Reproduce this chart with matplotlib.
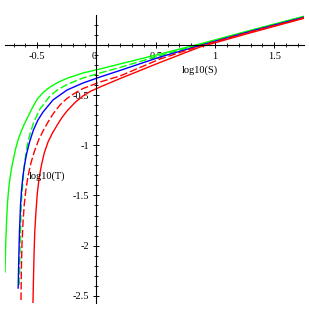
import matplotlib
matplotlib.use("Agg")
import matplotlib.pyplot as plt
from matplotlib.ticker import MultipleLocator, FixedLocator

# values (log10(S), log10(T))
green_solid_x = [-0.772, -0.766, -0.759, -0.751, -0.741, -0.730, -0.716, -0.700, -0.684, -0.662,
                 -0.637, -0.612, -0.582, -0.544, -0.502, -0.451, -0.392, -0.325, -0.249, -0.114,
                 0.030, 0.198, 0.536, 0.873, 1.295, 1.759]
green_solid_y = [-2.263, -1.994, -1.765, -1.575, -1.436, -1.326, -1.226, -1.132, -1.042, -0.947,
                 -0.867, -0.796, -0.723, -0.633, -0.543, -0.474, -0.419, -0.372, -0.332, -0.279,
                 -0.239, -0.189, -0.090, 0.010, 0.145, 0.289]

green_dash_x = [-0.651, -0.647, -0.641, -0.633, -0.624, -0.614, -0.601, -0.584, -0.561, -0.532,
                -0.477, -0.392, -0.325, -0.249, -0.114, 0.030, 0.198, 0.536, 0.873, 1.295, 1.759]
green_dash_y = [-2.393, -2.144, -1.844, -1.545, -1.406, -1.266, -1.127, -0.997, -0.887, -0.778,
                -0.638, -0.508, -0.444, -0.394, -0.329, -0.279, -0.224, -0.105, 0.005, 0.140, 0.284]

blue_x = [-0.661, -0.656, -0.650, -0.641, -0.633, -0.622, -0.608, -0.591, -0.565, -0.532,
          -0.494, -0.451, -0.367, -0.249, -0.114, 0.030, 0.198, 0.536, 0.873, 1.295, 1.759]
blue_y = [-2.423, -2.144, -1.864, -1.595, -1.456, -1.321, -1.201, -1.092, -0.967, -0.847,
          -0.748, -0.668, -0.548, -0.449, -0.379, -0.319, -0.254, -0.120, -0.005, 0.135, 0.279]

red_dash_x = [-0.637, -0.634, -0.629, -0.620, -0.609, -0.595, -0.576, -0.553, -0.523, -0.485,
              -0.451, -0.409, -0.367, -0.308, -0.249, -0.181, -0.114, 0.030, 0.198, 0.536,
              0.873, 1.295, 1.759]
red_dash_y = [-2.542, -2.243, -1.994, -1.765, -1.585, -1.436, -1.296, -1.176, -1.057, -0.937,
              -0.857, -0.768, -0.688, -0.598, -0.533, -0.479, -0.434, -0.369, -0.309, -0.140,
              -0.010, 0.130, 0.274]

red_solid_x = [-0.536, -0.532, -0.527, -0.521, -0.511, -0.500, -0.484, -0.464, -0.441, -0.409,
               -0.371, -0.329, -0.291, -0.249, -0.181, -0.114, -0.046, 0.030, 0.198, 0.536,
               0.873, 1.295, 1.759]
red_solid_y = [-2.572, -2.343, -2.094, -1.864, -1.665, -1.486, -1.326, -1.196, -1.077, -0.967,
               -0.877, -0.793, -0.723, -0.658, -0.573, -0.508, -0.459, -0.419, -0.335, -0.174,
               -0.020, 0.120, 0.269]

x_ticks = [-0.5, 0, 0.5, 1, 1.5]
x_tick_labels = ["-0.5", "0", "0.5", "1", "1.5"]
y_ticks = [-2.5, -2, -1.5, -1, -0.5]
y_tick_labels = ["-2.5", "-2", "-1.5", "-1", "-0.5"]

plt.rcParams['font.family'] = ['Liberation Serif', 'DejaVu Serif']

fig = plt.figure(figsize=(3.09, 3.09), dpi=100)
ax = fig.add_axes([5 / 309, (309 - 303.3) / 309, 299 / 309, (303.3 - 15) / 309])
ax.set_xlim(-0.772, 1.751)
ax.set_ylim(-2.575, 0.299)

lw = 1.0
ax.plot(green_solid_x, green_solid_y, color='#00ff00', lw=lw)
ax.plot(green_dash_x, green_dash_y, color='#00ff00', lw=lw, dashes=(5.5, 2))
ax.plot(blue_x, blue_y, color='#0000ff', lw=lw)
ax.plot(red_dash_x, red_dash_y, color='#ff0000', lw=lw, dashes=(5.5, 2))
ax.plot(red_solid_x, red_solid_y, color='#ff0000', lw=lw)

for s in ['top', 'right']:
    ax.spines[s].set_visible(False)
ax.spines['left'].set_position(('data', 0))
ax.spines['bottom'].set_position(('data', 0))
ax.spines['left'].set_linewidth(0.8)
ax.spines['bottom'].set_linewidth(0.8)

ax.xaxis.set_major_locator(FixedLocator(x_ticks))
ax.set_xticklabels(x_tick_labels)
ax.yaxis.set_major_locator(FixedLocator(y_ticks))
ax.set_yticklabels(y_tick_labels)
ax.xaxis.set_minor_locator(MultipleLocator(0.1))
ax.yaxis.set_minor_locator(MultipleLocator(0.1))
ax.tick_params(which='major', direction='inout', length=4, width=0.7, labelsize=7.5, pad=3)
ax.tick_params(which='minor', direction='inout', length=2.5, width=0.6)

for lab in ax.get_xticklabels():
    if lab.get_text() == "0":
        lab.set_horizontalalignment('right')

ax.text(0.87, -0.25, "log10(S)", fontsize=7.5, ha='center', va='center')
ax.text(-0.42, -1.31, "log10(T)", fontsize=7.5, ha='center', va='center')

fig.savefig("out.png", dpi=100)
